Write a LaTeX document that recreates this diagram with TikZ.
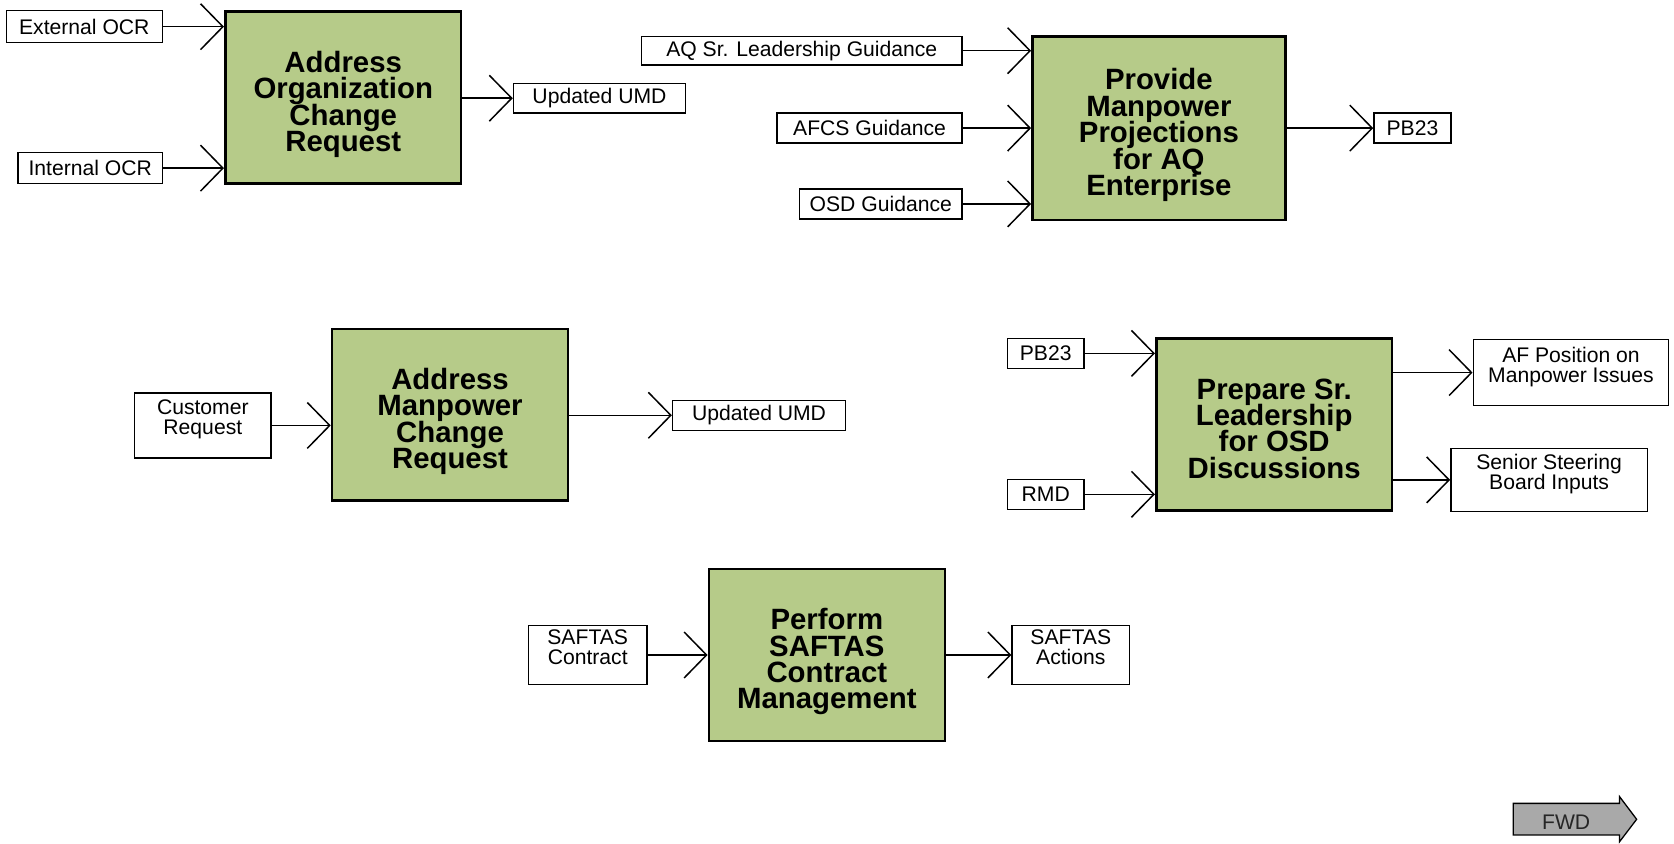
\documentclass[tikz,border=0pt]{standalone}
\usepackage{fontspec}
\setmainfont{Liberation Sans}
\usetikzlibrary{arrows.meta}
\definecolor{procgreen}{RGB}{182,203,137}
\definecolor{fwdgray}{RGB}{169,169,169}
\setlength{\lineskiplimit}{-30pt}

\begin{document}
\begin{tikzpicture}[x=1pt,y=-1pt,>={Straight Barb[length=21pt,width=43pt]},
    proc/.style={draw,line width=2.4pt,fill=procgreen,inner sep=0pt,align=center,
      text height=101pt,text depth=0pt,minimum width=221pt,minimum height=161pt,
      font=\fontsize{27.5}{24.7}\selectfont\bfseries},
    io/.style={draw,line width=1.4pt,fill=white,inner sep=0pt,align=center,
      minimum height=28pt,font=\fontsize{19.8}{19}\selectfont},
    twoline/.style={text depth=15pt},
    flow/.style={->,line width=1.4pt}]
  \useasboundingbox (0,0) rectangle (1568,790);

  % address organization change request
  \node[proc] (orgchg) at (321.5,91.5) {Address\\Organization\\Change\\Request};
  \node[io,minimum width=146pt,minimum height=30pt] (extocr) at (79,25) {External OCR};
  \node[io,minimum width=135pt,minimum height=29pt] (intocr) at (84.5,157.5) {Internal OCR};
  \node[io,minimum width=161pt] (umdA) at (561.5,92) {Updated UMD};
  \draw[flow] (extocr) -- (extocr -| orgchg.west);
  \draw[flow] (intocr) -- (intocr -| orgchg.west);
  \draw[flow] (orgchg.east |- umdA) -- (umdA);

  % provide manpower projections
  \node[proc,text height=126pt,minimum width=237pt,minimum height=172pt] (projn) at (1085.5,120) {Provide\\Manpower\\Projections\\for AQ\\Enterprise};
  \node[io,minimum width=300pt,minimum height=27pt] (aqsr) at (751,47.5) {AQ Sr. Leadership Guidance};
  \node[io,minimum width=173pt] (afcs) at (814.5,120) {AFCS Guidance};
  \node[io,minimum width=152pt] (osdg) at (825,191) {OSD Guidance};
  \node[io,minimum width=72pt] (pbA) at (1323,120) {PB23};
  \foreach \src in {aqsr,afcs,osdg}
    \draw[flow] (\src) -- (\src -| projn.west);
  \draw[flow] (projn.east |- pbA) -- (pbA);

  % address manpower change request
  \node[proc] (mpchg) at (421.5,388.5) {Address\\Manpower\\Change\\Request};
  \node[io,twoline,minimum width=128pt,minimum height=61pt] (custreq) at (190,398.5) {Customer\\Request};
  \node[io,minimum width=162pt] (umdB) at (711,389) {Updated UMD};
  \draw[flow] (custreq) -- (custreq -| mpchg.west);
  \draw[flow] (mpchg.east |- umdB) -- (umdB);

  % prepare sr. leadership
  \node[proc] (prepsl) at (1193.5,397.5) {Prepare Sr.\\Leadership\\for OSD\\Discussions};
  \node[io,minimum width=72pt] (pbB) at (979.5,331) {PB23};
  \node[io,minimum width=72pt] (rmd) at (979.5,463) {RMD};
  \node[io,twoline,minimum width=183pt,minimum height=62pt] (afpos) at (1471.5,349) {AF Position on\\Manpower Issues};
  \node[io,twoline,minimum width=184pt,minimum height=59pt] (ssb) at (1451,449.5) {Senior Steering\\Board Inputs};
  \draw[flow] (pbB) -- (pbB -| prepsl.west);
  \draw[flow] (rmd) -- (rmd -| prepsl.west);
  \draw[flow] (prepsl.east |- afpos) -- (afpos);
  \draw[flow] (prepsl.east |- ssb) -- (ssb);

  % saftas contract management
  \node[proc] (saftas) at (774.5,613.5) {Perform\\SAFTAS\\Contract\\Management};
  \node[io,twoline,minimum width=111pt,minimum height=55pt] (sfcon) at (550.5,613.5) {SAFTAS\\Contract};
  \node[io,twoline,minimum width=110pt,minimum height=55pt] (sfact) at (1003,613.5) {SAFTAS\\Actions};
  \draw[flow] (sfcon) -- (sfcon -| saftas.west);
  \draw[flow] (saftas.east |- sfact) -- (sfact);

  % forward button
  \draw[line width=1.2pt,fill=fwdgray] (1417.5,752.5) -- (1517,752.5) -- (1517,746.2) -- (1533,767.4)
    -- (1517,788.4) -- (1517,782.1) -- (1417.5,782.1) -- cycle;
  \node[font=\fontsize{19.8}{19}\selectfont,text=black!85] (fwd) at (1467,770) {FWD};
\end{tikzpicture}
\end{document}
